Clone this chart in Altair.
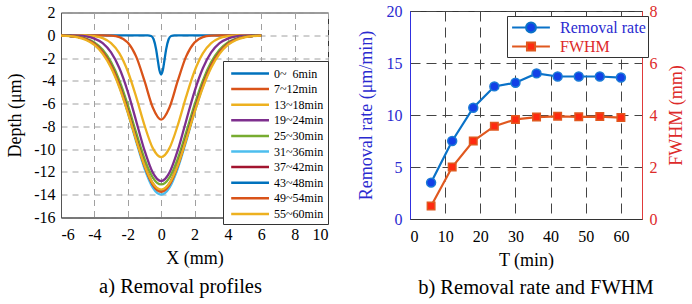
import altair as alt
import pandas as pd

FONT = "Liberation Serif"

# ---------------- left panel: removal profiles ----------------
SERIES = ["\u00a0\u00a00~\u00a0\u00a06min", "\u00a0\u00a07~12min", "13~18min", "19~24min", "25~30min",
          "31~36min", "37~42min", "43~48min", "49~54min", "55~60min"]
COLORS = ["#0072BD", "#D95319", "#EDB120", "#7E2F8E", "#77AC30",
          "#4DBEEE", "#A2142F", "#0072BD", "#D95319", "#EDB120"]

X_NARROW = [-6, -0.8, -0.6, -0.45, -0.3, -0.2, -0.1, 0, 0.1, 0.2, 0.3, 0.45, 0.6, 0.8, 6]
X_GRID = [-6, -5.5, -5, -4.5, -4, -3.5, -3, -2.5, -2, -1.5, -1, -0.5, 0,
          0.5, 1, 1.5, 2, 2.5, 3, 3.5, 4, 4.5, 5, 5.5, 6]

D_00_06 = [0, 0, -0.06, -0.35, -1.24, -2.19, -3.08, -3.45, -3.08, -2.19, -1.24, -0.35, -0.06, 0, 0]
D_07_12 = [0, 0, 0, 0, 0, 0, -0.03, -0.16, -0.63, -1.85, -3.99, -6.34, -7.4,
           -6.34, -3.99, -1.85, -0.63, -0.16, -0.03, 0, 0, 0, 0, 0, 0]
D_13_18 = [0, 0, 0, -0.02, -0.08, -0.25, -0.69, -1.59, -3.16, -5.39, -7.89, -9.91, -10.7,
           -9.91, -7.89, -5.39, -3.16, -1.59, -0.69, -0.25, -0.08, -0.02, 0, 0, 0]
D_19_24 = [0, -0.01, -0.03, -0.10, -0.29, -0.69, -1.51, -2.90, -4.94, -7.50, -10.09, -12.06, -12.8,
           -12.06, -10.09, -7.50, -4.94, -2.90, -1.51, -0.69, -0.29, -0.10, -0.03, -0.01, 0]
D_25_30 = [-0.01, -0.04, -0.11, -0.28, -0.62, -1.27, -2.36, -3.98, -6.11, -8.53, -10.83, -12.49, -13.1,
           -12.49, -10.83, -8.53, -6.11, -3.98, -2.36, -1.27, -0.62, -0.28, -0.11, -0.04, -0.01]
D_31_36 = [-0.02, -0.06, -0.15, -0.36, -0.77, -1.52, -2.73, -4.50, -6.77, -9.31, -11.68, -13.38, -14.0,
           -13.38, -11.68, -9.31, -6.77, -4.50, -2.73, -1.52, -0.77, -0.36, -0.15, -0.06, -0.02]
D_37_42 = [-0.02, -0.06, -0.15, -0.35, -0.75, -1.48, -2.65, -4.37, -6.58, -9.04, -11.35, -13.00, -13.6,
           -13.00, -11.35, -9.04, -6.58, -4.37, -2.65, -1.48, -0.75, -0.35, -0.15, -0.06, -0.02]
D_43_48 = [-0.02, -0.06, -0.15, -0.35, -0.75, -1.49, -2.67, -4.40, -6.63, -9.11, -11.43, -13.09, -13.7,
           -13.09, -11.43, -9.11, -6.63, -4.40, -2.67, -1.49, -0.75, -0.35, -0.15, -0.06, -0.02]
D_49_54 = [-0.02, -0.06, -0.15, -0.35, -0.76, -1.49, -2.68, -4.42, -6.65, -9.14, -11.47, -13.14, -13.75,
           -13.14, -11.47, -9.14, -6.65, -4.42, -2.68, -1.49, -0.76, -0.35, -0.15, -0.06, -0.02]
D_55_60 = [-0.03, -0.07, -0.18, -0.41, -0.85, -1.63, -2.85, -4.59, -6.78, -9.18, -11.40, -12.98, -13.55,
           -12.98, -11.40, -9.18, -6.78, -4.59, -2.85, -1.63, -0.85, -0.41, -0.18, -0.07, -0.03]

PROFILES = [D_00_06, D_07_12, D_13_18, D_19_24, D_25_30, D_31_36, D_37_42, D_43_48, D_49_54, D_55_60]

rows = []
for i, (name, prof) in enumerate(zip(SERIES, PROFILES)):
    xs = X_NARROW if i == 0 else X_GRID
    for j, (xv, dv) in enumerate(zip(xs, prof)):
        rows.append({"series": name, "x": xv, "depth": dv, "j": j})
df_prof = pd.DataFrame(rows)

# ---------------- right panel: removal rate and FWHM ----------------
T_MIN = [6, 12, 18, 24, 30, 36, 42, 48, 54, 60]
RATE = [3.5, 7.5, 10.7, 12.75, 13.1, 14.0, 13.7, 13.7, 13.7, 13.6]
FWHM = [0.5, 2.0, 3.0, 3.57, 3.83, 3.92, 3.95, 3.93, 3.94, 3.9]
RIGHT_SERIES = ["Removal rate", "FWHM"]

df_rate = pd.DataFrame({"T": T_MIN, "v": RATE, "series": "Removal rate"})
df_fwhm = pd.DataFrame({"T": T_MIN, "v": FWHM, "series": "FWHM"})

BLUE_TXT = "#2a2ad0"
RED_TXT = "#dd2a2a"
LINE_BLUE = "#0a72c8"
LINE_ORANGE = "#e0581f"
MARK_BLUE = "#1240e6"
MARK_RED = "#ff2a10"

axis_common = dict(labelFont=FONT, labelFontSize=16, titleFont=FONT, titleFontSize=18,
                   titleFontWeight="normal", ticks=False, labelColor="black", titleColor="black")

# ---- left chart
left = alt.Chart(df_prof).mark_line(strokeWidth=2.3, interpolate="monotone", clip=True).encode(
    x=alt.X("x:Q", scale=alt.Scale(domain=[-6, 10], nice=False, zero=False),
            axis=alt.Axis(values=list(range(-6, 11, 2)), title="X (mm)", labelExpr="'' + datum.value",
                          grid=True, gridColor="#a0a0a0", gridDash=[6, 5], gridWidth=1,
                          domainColor="#555555", labelPadding=9, titlePadding=7, **axis_common)),
    y=alt.Y("depth:Q", scale=alt.Scale(domain=[-16, 2], nice=False, zero=False),
            axis=alt.Axis(values=list(range(-16, 3, 2)), title="Depth (\u03bcm)", labelExpr="'' + datum.value",
                          grid=True, gridColor="#a0a0a0", gridDash=[6, 5], gridWidth=1,
                          domainColor="#555555", labelPadding=6, titlePadding=9, **axis_common)),
    color=alt.Color("series:N", sort=SERIES, scale=alt.Scale(domain=SERIES, range=COLORS),
                    legend=alt.Legend(orient="none", legendX=162, legendY=50, title=None,
                                      symbolType="M-2.7,0H2.7", symbolSize=196, symbolStrokeWidth=2.5,
                                      symbolOffset=14.6, labelOffset=15.5,
                                      labelFont=FONT, labelFontSize=12,
                                      padding=4, rowPadding=0.6, strokeColor="#333333",
                                      fillColor="white", labelColor="black")),
    order=alt.Order("j:Q"),
).properties(
    width=267, height=205,
    title=alt.TitleParams("a) Removal profiles", orient="bottom", font=FONT, fontSize=20.5,
                          fontWeight="normal", offset=9, dx=-14, frame="group", anchor="middle"),
)

# ---- right chart
x_r = alt.X("T:Q", scale=alt.Scale(domain=[0, 66], nice=False, zero=False),
            axis=alt.Axis(values=list(range(0, 61, 10)), title="T (min)",
                          grid=True, gridColor="#444444", gridDash=[10, 6], gridWidth=1,
                          domainColor="#333333", labelPadding=9, titlePadding=7, **axis_common))

rate_axis = alt.Axis(values=[0, 5, 10, 15, 20], title="Removal rate (\u03bcm/min)",
                     grid=True, gridColor="#444444", gridDash=[10, 6], gridWidth=1,
                     domainColor="#3030e0", labelPadding=8, titlePadding=11,
                     **{**axis_common, "labelColor": BLUE_TXT, "titleColor": BLUE_TXT})
fwhm_axis = alt.Axis(values=[0, 2, 4, 6, 8], title="FWHM (mm)", orient="right", grid=False,
                     domainColor="#e03a3a", labelPadding=7, titlePadding=10, titleAngle=270,
                     titleBaseline="top",
                     **{**axis_common, "labelColor": RED_TXT, "titleColor": RED_TXT})
y_rate = alt.Y("v:Q", scale=alt.Scale(domain=[0, 20], nice=False), axis=rate_axis)
y_fwhm = alt.Y("v:Q", scale=alt.Scale(domain=[0, 8], nice=False), axis=fwhm_axis)

rate_line = alt.Chart(df_rate).mark_line(color=LINE_BLUE, strokeWidth=2.2).encode(x=x_r, y=y_rate)
rate_pts = alt.Chart(df_rate).mark_point(filled=True, size=80, opacity=1, fill=MARK_BLUE,
                                         stroke="#1a7ad6", strokeWidth=1.5, shape="circle").encode(x=x_r, y=y_rate)
fwhm_line = alt.Chart(df_fwhm).mark_line(color=LINE_ORANGE, strokeWidth=2.2).encode(x=x_r, y=y_fwhm)
fwhm_pts = alt.Chart(df_fwhm).mark_point(filled=True, size=56, opacity=1, fill=MARK_RED,
                                         stroke=LINE_ORANGE, strokeWidth=1.5, shape="square").encode(x=x_r, y=y_fwhm)

# legend-only layer (no rows drawn; entries come from the explicit scale domain)
CIRCLE_PATH = "M-2.1,0H-0.55M0.55,0H2.1M0.55,0A0.55,0.55,0,1,1,-0.55,0A0.55,0.55,0,1,1,0.55,0Z"
SQUARE_PATH = "M-2.1,0H-0.45M0.45,0H2.1M-0.45,-0.45H0.45V0.45H-0.45Z"
leg_common = dict(orient="none", legendX=446, legendY=5, title=None,
                  labelFont=FONT, labelFontSize=16, labelOffset=19,
                  symbolSize=324, symbolOffset=12.5, symbolStrokeWidth=2, symbolOpacity=1,
                  padding=1.5, rowPadding=0, strokeColor="#333333", fillColor="white",
                  labelColor={"expr": "datum.label == 'FWHM' ? '%s' : '%s'" % (RED_TXT, BLUE_TXT)})
legend_layer = alt.Chart(df_rate).transform_filter("false").mark_point(filled=True).encode(
    x=x_r, y=y_rate,
    shape=alt.Shape("series:N", sort=RIGHT_SERIES,
                    scale=alt.Scale(domain=RIGHT_SERIES, range=[CIRCLE_PATH, SQUARE_PATH]),
                    legend=alt.Legend(**leg_common)),
    fill=alt.Fill("series:N", sort=RIGHT_SERIES,
                  scale=alt.Scale(domain=RIGHT_SERIES, range=[MARK_BLUE, MARK_RED]),
                  legend=alt.Legend(**leg_common)),
    stroke=alt.Stroke("series:N", sort=RIGHT_SERIES,
                      scale=alt.Scale(domain=RIGHT_SERIES, range=[LINE_BLUE, LINE_ORANGE]),
                      legend=alt.Legend(**leg_common)),
)

right = alt.layer(
    alt.layer(rate_line, rate_pts, legend_layer),
    alt.layer(fwhm_line, fwhm_pts),
).resolve_scale(y="independent").properties(
    width=232, height=208,
    title=alt.TitleParams("b) Removal rate and FWHM", orient="bottom", font=FONT, fontSize=20.5,
                          fontWeight="normal", offset=9, dx=10, frame="group", anchor="middle"),
)

chart = alt.hconcat(left, right, spacing=82, bounds="flush", center=True).properties(
    padding={"left": 6, "top": 2, "right": 0, "bottom": 0},
    background="white",
).configure(font=FONT).configure_view(stroke="#333333", strokeWidth=1).configure_legend(
    strokeWidth=1, cornerRadius=0, labelFont=FONT
).configure_axis(labelFont=FONT, titleFont=FONT)

chart.save("out.html", embed_options={"renderer": "svg", "actions": False})
